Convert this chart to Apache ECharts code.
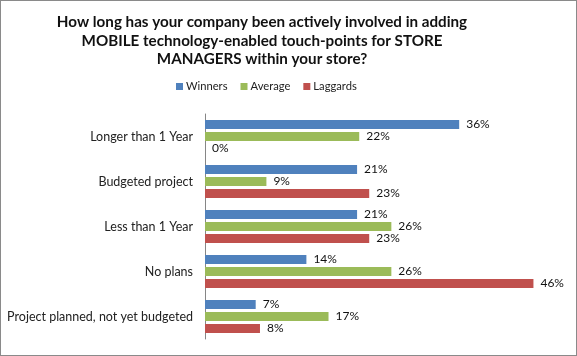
<!DOCTYPE html>
<html><head><meta charset="utf-8">
<script src="https://cdn.jsdelivr.net/npm/echarts@6/dist/echarts.min.js"></script>
<style>html,body{margin:0;padding:0;background:#fff}#c{width:577px;height:356px;box-sizing:border-box;border:1px solid #8a8a8a;}</style>
</head><body><div id="c"></div>
<script>
const categories = ['Longer than 1 Year','Budgeted project','Less than 1 Year','No plans','Project planned, not yet budgeted'];
const winners = [35.6, 21.3, 21.3, 14.2, 7.1];
const average = [21.6, 8.6, 26.1, 26.1, 17.3];
const laggards = [0, 23.0, 23.0, 46.0, 7.7];
const seriesNames = ['Winners','Average','Laggards'];
const colors = ['#4F81BD','#9BBB59','#C0504D'];
const FONT = 'Lato';
const chart = echarts.init(document.getElementById('c'));
const mk = (name, data, color) => ({
  name, type: 'bar', data, barWidth: 9, barGap: '33%',
  itemStyle: {color},
  label: {show: true, position: 'right', distance: 7, formatter: p => Math.round(p.value) + '%', color: '#111', fontFamily: FONT, fontSize: 12}
});
chart.setOption({
  animation: false,
  title: {text: 'How long has your company been actively involved in adding\nMOBILE technology-enabled touch-points for STORE\nMANAGERS within your store?', left: 261, textAlign: 'center', top: 12, padding: 0,
    textStyle: {fontFamily: FONT, fontWeight: 'bold', fontSize: 15.2, lineHeight: 18.5, color: '#111'}},
  legend: {data: seriesNames, top: 80, left: 175, padding: 0, itemWidth: 7, itemHeight: 7, itemGap: 13, icon: 'rect',
    textStyle: {fontFamily: FONT, fontSize: 11.2, color: '#222', padding: [0, 0, 0, -2]}},
  grid: {left: 204, right: 14, top: 113, bottom: 16},
  xAxis: {type: 'value', min: 0, max: 50, show: false},
  yAxis: {type: 'category', data: categories, inverse: true,
    axisLine: {show: true, lineStyle: {color: '#868686'}}, axisTick: {show: false},
    axisLabel: {fontFamily: FONT, fontSize: 12.5, color: '#222', margin: 12}},
  series: [mk(seriesNames[0], winners, colors[0]), mk(seriesNames[1], average, colors[1]), mk(seriesNames[2], laggards, colors[2])]
});
</script></body></html>
